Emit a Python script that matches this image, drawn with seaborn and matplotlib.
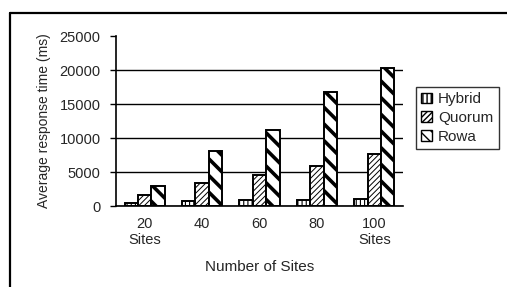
import pandas as pd
import matplotlib
matplotlib.use("Agg")
import matplotlib.pyplot as plt
import seaborn as sns
from matplotlib.lines import Line2D

sites = ["20\nSites", "40", "60", "80", "100\nSites"]
hybrid = [500, 700, 900, 900, 1100]
quorum = [1600, 3400, 4600, 5900, 7600]
rowa = [2900, 8100, 11200, 16700, 20300]

series = ["Hybrid", "Quorum", "Rowa"]
hatches = {"Hybrid": "||||", "Quorum": "//////", "Rowa": "\\\\"}
hatch_lw = {"Hybrid": 0.8, "Quorum": 0.7, "Rowa": 2.6}

df = pd.DataFrame({
    "site": sites * 3,
    "method": ["Hybrid"] * 5 + ["Quorum"] * 5 + ["Rowa"] * 5,
    "time": hybrid + quorum + rowa,
})

sns.set_style("white")
plt.rcParams["font.family"] = ["Liberation Sans", "DejaVu Sans"]
plt.rcParams["hatch.color"] = "black"

fig = plt.figure(figsize=(5.07, 2.87), dpi=100)
ax = fig.add_axes([116 / 507, 1 - 206 / 287, 287 / 507, 170 / 287])

sns.barplot(data=df, x="site", y="time", hue="method", hue_order=series,
            palette=["white"] * 3, edgecolor="black", linewidth=1.4,
            width=0.7, ax=ax, legend=False)

for cont, name in zip(ax.containers, series):
    for bar in cont:
        bar.set_hatch(hatches[name])
        if hasattr(bar, "set_hatch_linewidth"):
            bar.set_hatch_linewidth(hatch_lw[name])

ax.set_ylim(0, 25000)
ax.set_xlim(-0.5, 4.5)
ax.set_yticks([0, 5000, 10000, 15000, 20000, 25000])
ax.yaxis.grid(True, color="black", linewidth=1.0)
ax.set_axisbelow(True)
ax.get_ygridlines()[-1].set_visible(False)

for s in ["top", "right"]:
    ax.spines[s].set_visible(False)
for s in ["left", "bottom"]:
    ax.spines[s].set_color("black")
    ax.spines[s].set_linewidth(1.2)

ax.set_xticks([-0.5, 0.5, 1.5, 2.5, 3.5, 4.5], minor=True)
ax.tick_params(axis="x", which="minor", length=3, width=1, color="black", direction="out")
ax.tick_params(axis="x", which="major", length=0, labelsize=10.5, pad=8)
ax.tick_params(axis="y", length=4, width=1, color="black", direction="out", labelsize=10.5, pad=7)
ax.tick_params(bottom=True, left=True)

ax.set_xlabel("Number of Sites", fontsize=11, labelpad=9)
ax.set_ylabel("Average response time (ms)", fontsize=10, labelpad=6)

handles = []
for n in series:
    h = plt.Rectangle((0, 0), 1, 1, facecolor="white", edgecolor="black",
                      hatch="\\\\\\" if n == "Rowa" else hatches[n], linewidth=1)
    if hasattr(h, "set_hatch_linewidth"):
        h.set_hatch_linewidth(1.2 if n == "Rowa" else 0.7)
    handles.append(h)
leg = ax.legend(handles, series, loc="upper left", bbox_to_anchor=(1.045, 0.70),
                frameon=True, fancybox=False, fontsize=11, handlelength=0.7,
                handleheight=0.7, handletextpad=0.4, borderpad=0.35,
                labelspacing=0.3, borderaxespad=0)
leg.get_frame().set_edgecolor("black")
leg.get_frame().set_linewidth(1.0)

# outer chart border (clipped on the right and bottom)
fig.add_artist(Line2D([10 / 507, 10 / 507], [0, 1 - 13 / 287], color="black", linewidth=1.6,
                      transform=fig.transFigure))
fig.add_artist(Line2D([10 / 507, 1], [1 - 13 / 287, 1 - 13 / 287], color="black", linewidth=1.6,
                      transform=fig.transFigure))

fig.savefig("out.png", dpi=100)
